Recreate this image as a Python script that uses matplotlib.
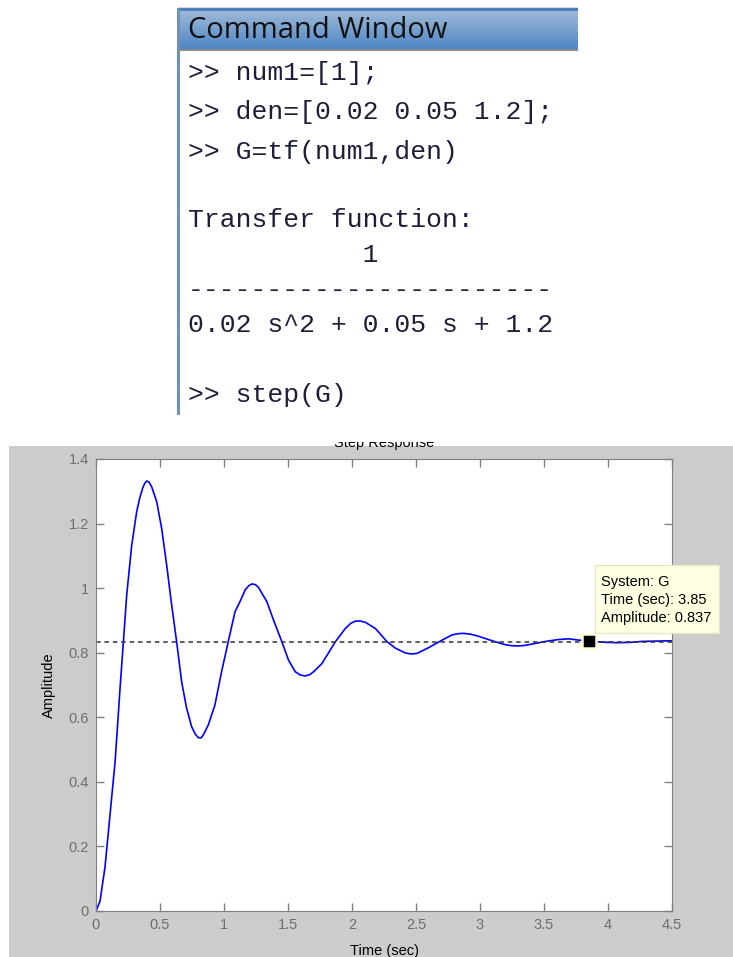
import numpy as np
import matplotlib
matplotlib.use('Agg')
import matplotlib.pyplot as plt
from matplotlib.patches import Rectangle
from matplotlib.ticker import FormatStrFormatter

# step response
time = [0, 0.031, 0.07, 0.11, 0.149, 0.188, 0.214, 0.24, 0.279, 0.318, 0.342, 0.365,
        0.38, 0.396, 0.415, 0.435, 0.474, 0.513, 0.552, 0.591, 0.63, 0.669, 0.708,
        0.747, 0.775, 0.799, 0.82, 0.838, 0.877, 0.929, 0.981, 1.033, 1.086, 1.127,
        1.166, 1.195, 1.218, 1.245, 1.27, 1.335, 1.387, 1.452, 1.504, 1.557, 1.595,
        1.635, 1.67, 1.70, 1.766, 1.87, 1.948, 1.99, 2.027, 2.065, 2.105, 2.183,
        2.274, 2.34, 2.418, 2.465, 2.509, 2.6, 2.69, 2.78, 2.83, 2.873, 2.93, 2.98,
        3.095, 3.186, 3.24, 3.29, 3.34, 3.395, 3.512, 3.616, 3.694, 3.77, 3.85, 3.94,
        4.07, 4.17, 4.27, 4.38, 4.5]
amplitude = [0, 0.03, 0.135, 0.3, 0.462, 0.69, 0.834, 0.979, 1.133, 1.237, 1.28, 1.31,
             1.324, 1.332, 1.328, 1.314, 1.268, 1.185, 1.072, 0.948, 0.834, 0.71, 0.628,
             0.571, 0.548, 0.537, 0.536, 0.545, 0.576, 0.638, 0.741, 0.834, 0.927, 0.96,
             0.995, 1.008, 1.013, 1.011, 1.002, 0.958, 0.901, 0.834, 0.777, 0.741, 0.731,
             0.728, 0.732, 0.741, 0.767, 0.834, 0.875, 0.891, 0.898, 0.898, 0.894, 0.875,
             0.834, 0.814, 0.799, 0.796, 0.798, 0.816, 0.836, 0.855, 0.859, 0.86, 0.857,
             0.852, 0.837, 0.826, 0.822, 0.821, 0.822, 0.826, 0.835, 0.841, 0.843, 0.839,
             0.837, 0.833, 0.831, 0.832, 0.835, 0.836, 0.837]
steady_state = 0.833
tip_time = 3.85
tip_amp = 0.837

x_ticks = [0, 0.5, 1, 1.5, 2, 2.5, 3, 3.5, 4, 4.5]
y_ticks = [0, 0.2, 0.4, 0.6, 0.8, 1.0, 1.2, 1.4]

cmd_lines = [
    ('>> num1=[1];', 80),
    ('>> den=[0.02 0.05 1.2];', 119.5),
    ('>> G=tf(num1,den)', 158.5),
    ('Transfer function:', 227),
    ('           1', 262),
    ('-----------------------', 297),
    ('0.02 s^2 + 0.05 s + 1.2', 332),
    ('>> step(G)', 402),
]

W, H = 733, 957
def fx(x):
    return x / W
def fy(y):
    return 1 - y / H
def rect(x0, y0, x1, y1, **kw):
    r = Rectangle((fx(x0), fy(y1)), fx(x1) - fx(x0), fy(y0) - fy(y1),
                  transform=fig.transFigure, **kw)
    fig.add_artist(r)
    return r

fig = plt.figure(figsize=(W / 100, H / 100), dpi=100)
fig.patch.set_facecolor('white')

# ---- command window screenshot part
rect(178, 6.5, 578, 8, color='#d8d8d8', lw=0, zorder=1)
hdr = fig.add_axes([fx(178), fy(50), fx(578) - fx(178), fy(8) - fy(50)])
grad = np.linspace(0, 1, 64).reshape(-1, 1)
top_c = np.array([0.64, 0.74, 0.85])
bot_c = np.array([0.30, 0.52, 0.77])
img = top_c[None, None, :] * (1 - grad[:, :, None]) + bot_c[None, None, :] * grad[:, :, None]
hdr.imshow(img, aspect='auto', extent=[0, 1, 0, 1])
hdr.set_axis_off()
rect(178, 8, 578, 10.5, color='#4f7fbf', lw=0, zorder=2)
rect(178, 49, 578, 51, color='#8c8c8c', lw=0, zorder=2)
rect(176.5, 8, 179.5, 415, color='#7190b8', lw=0, zorder=2)
fig.text(fx(188), fy(31), 'Command Window', fontsize=21, family='Open Sans',
         color='#111111', va='center', ha='left', zorder=3)

for line, base in cmd_lines:
    fig.text(fx(188), fy(base), line, family='Liberation Mono', fontsize=19,
             color='#1e1e3a', ha='left', va='baseline')

# ---- MATLAB figure part
rect(9, 446, 733, 957, color='#cccccc', lw=0, zorder=0)

ax = fig.add_axes([fx(96), fy(911), fx(672) - fx(96), fy(459) - fy(911)])
ax.plot(time, amplitude, color='#0000ff', lw=1.2)
ax.axhline(steady_state, color='#333333', lw=1.1, ls=(0, (3, 2.5)))
ax.plot(tip_time, tip_amp, 's', ms=9.5, mfc='black', mec='#ffffd8', mew=1.8, zorder=5)

ax.set_xlim(0, 4.5)
ax.set_ylim(0, 1.4)
ax.set_xticks(x_ticks)
ax.set_yticks(y_ticks)
ax.xaxis.set_major_formatter(FormatStrFormatter('%g'))
ax.yaxis.set_major_formatter(FormatStrFormatter('%g'))
ax.tick_params(direction='in', top=True, right=True, length=6, width=1,
               color='#808080', labelcolor='#6e6e6e', labelsize=10.5, pad=5)
for lbl in ax.get_xticklabels() + ax.get_yticklabels():
    lbl.set_family('Liberation Sans')
for s in ax.spines.values():
    s.set_color('#808080')
ax.set_xlabel('Time (sec)', family='Liberation Sans', fontsize=10.5, labelpad=9)
ax.set_ylabel('Amplitude', family='Liberation Sans', fontsize=10.5, labelpad=9)

# title is half hidden in the screenshot
fig.text(fx(384), fy(447), 'Step Response', family='Liberation Sans', fontsize=10.5,
         ha='center', va='baseline', zorder=3)
rect(9, 416, 733, 441.5, color='white', lw=0, zorder=4)

# datatip
rect(595, 565, 719, 633, facecolor='#ffffe1', edgecolor='#e6e6c8', lw=1, zorder=6)
tip_text = ['System: G', 'Time (sec): %.2f' % tip_time, 'Amplitude: %.3f' % tip_amp]
for i, s in enumerate(tip_text):
    fig.text(fx(601), fy(581.7 + 18 * i), s, family='Liberation Sans', fontsize=10.5,
             ha='left', va='center', zorder=7)

fig.savefig('out.png', dpi=100)
